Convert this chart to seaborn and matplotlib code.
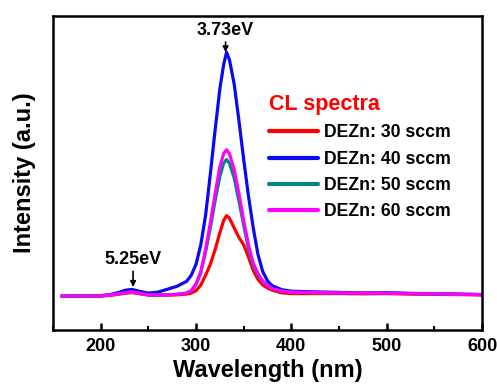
import seaborn as sns
import matplotlib.pyplot as plt
import pandas as pd
from matplotlib.ticker import MultipleLocator

# Wavelength grid (nm) and CL intensities (a.u.)
wavelength = [159, 170, 190, 200, 210, 220, 226, 233, 240, 250, 260, 270, 280, 290, 295,
              300, 305, 310, 315, 320, 325, 329, 332, 335, 340, 345, 350, 355, 360, 365,
              370, 375, 380, 390, 400, 425, 450, 475, 500, 525, 550, 575, 600]

sccm_30 = [0.0, 0.0, 0.0, 0.0, 0.003, 0.008, 0.012, 0.014, 0.010, 0.004, 0.003, 0.004, 0.005, 0.008, 0.012,
           0.022, 0.045, 0.085, 0.13, 0.19, 0.26, 0.31, 0.33, 0.32, 0.28, 0.24, 0.21, 0.16, 0.105, 0.068,
           0.045, 0.033, 0.024, 0.013, 0.010, 0.010, 0.010, 0.009, 0.010, 0.008, 0.007, 0.006, 0.005]

sccm_40 = [0.0, 0.0, 0.0, 0.002, 0.006, 0.016, 0.024, 0.027, 0.020, 0.012, 0.016, 0.028, 0.040, 0.060, 0.085,
           0.13, 0.21, 0.33, 0.50, 0.68, 0.85, 0.95, 1.00, 0.97, 0.87, 0.72, 0.56, 0.41, 0.28, 0.17,
           0.10, 0.062, 0.042, 0.026, 0.020, 0.017, 0.015, 0.013, 0.014, 0.011, 0.010, 0.008, 0.006]

sccm_50 = [0.0, 0.0, 0.0, 0.001, 0.004, 0.010, 0.014, 0.017, 0.012, 0.005, 0.004, 0.005, 0.007, 0.012, 0.021,
           0.047, 0.095, 0.18, 0.28, 0.39, 0.49, 0.545, 0.56, 0.545, 0.485, 0.39, 0.29, 0.195, 0.125, 0.086,
           0.058, 0.042, 0.030, 0.020, 0.016, 0.014, 0.013, 0.012, 0.012, 0.010, 0.009, 0.007, 0.006]

sccm_60 = [0.0, 0.0, 0.0, 0.001, 0.004, 0.010, 0.014, 0.017, 0.012, 0.005, 0.004, 0.005, 0.007, 0.012, 0.022,
           0.05, 0.10, 0.19, 0.30, 0.42, 0.53, 0.585, 0.60, 0.585, 0.52, 0.42, 0.31, 0.21, 0.135, 0.092,
           0.062, 0.043, 0.031, 0.020, 0.016, 0.014, 0.013, 0.012, 0.012, 0.010, 0.009, 0.007, 0.006]

series_labels = ['DEZn: 30 sccm', 'DEZn: 40 sccm', 'DEZn: 50 sccm', 'DEZn: 60 sccm']
series_colors = ['#ff0000', '#0a0af0', '#00877c', '#ff00ff']


def main():
    sns.set_theme(style="ticks")
    plt.rcParams['font.family'] = ['Liberation Sans', 'DejaVu Sans']
    plt.rcParams['font.weight'] = 'bold'
    plt.rcParams['text.color'] = 'black'
    plt.rcParams['axes.labelcolor'] = 'black'
    plt.rcParams['xtick.color'] = 'black'
    plt.rcParams['xtick.labelcolor'] = 'black'

    frames = []
    for label, values in zip(series_labels, [sccm_30, sccm_40, sccm_50, sccm_60]):
        frames.append(pd.DataFrame({'wavelength': wavelength, 'intensity': values, 'sample': label}))
    df = pd.concat(frames, ignore_index=True)

    fig = plt.figure(figsize=(4.97, 3.85), dpi=100)
    ax = fig.add_axes([0.1066, 0.143, 0.8634, 0.815])

    sns.lineplot(data=df, x='wavelength', y='intensity', hue='sample',
                 hue_order=series_labels, palette=series_colors,
                 linewidth=2.3, sort=False, estimator=None, ax=ax)

    ax.set_xlim(150, 600)
    ax.set_ylim(-0.139, 1.148)
    ax.xaxis.set_major_locator(MultipleLocator(100))
    ax.xaxis.set_minor_locator(MultipleLocator(50))
    ax.set_yticks([])
    ax.tick_params(axis='x', which='major', direction='in', length=5, width=1.8,
                   labelsize=13, pad=6, colors='black')
    ax.tick_params(axis='x', which='minor', direction='in', length=3, width=1.5, colors='black')
    for lab in ax.get_xticklabels():
        lab.set_fontweight('bold')
    for spine in ax.spines.values():
        spine.set_linewidth(1.8)
        spine.set_color('black')

    ax.set_xlabel('Wavelength (nm)', fontsize=17, fontweight='bold', labelpad=2.5, color='black')
    ax.set_ylabel('Intensity (a.u.)', fontsize=17, fontweight='bold', labelpad=12, color='black')

    # peak markers
    ax.annotate('3.73eV', xy=(331, 1.0), xytext=(331, 1.055), ha='center', va='bottom',
                fontsize=13, fontweight='bold', color='black',
                arrowprops=dict(arrowstyle='-|>', color='black', lw=1.2,
                                mutation_scale=8, shrinkA=0, shrinkB=0))
    ax.annotate('5.25eV', xy=(234, 0.037), xytext=(234, 0.115), ha='center', va='bottom',
                fontsize=13, fontweight='bold', color='black',
                arrowprops=dict(arrowstyle='-|>', color='black', lw=1.2,
                                mutation_scale=8, shrinkA=0, shrinkB=0))

    handles, labels = ax.get_legend_handles_labels()
    leg = ax.legend(handles, labels, title='CL spectra', loc='upper left',
                    bbox_to_anchor=(0.503, 0.752), frameon=False,
                    prop={'size': 12.7, 'weight': 'bold'},
                    handlelength=2.8, handletextpad=0.3, labelspacing=0.53,
                    borderpad=0, borderaxespad=0, alignment='left')
    leg.get_title().set_color('red')
    leg.get_title().set_fontsize(15.5)
    leg.get_title().set_fontweight('bold')
    for text in leg.get_texts():
        text.set_color('black')
    for line in leg.get_lines():
        line.set_linewidth(3)

    fig.savefig('out.png', dpi=100)


if __name__ == "__main__":
    main()
